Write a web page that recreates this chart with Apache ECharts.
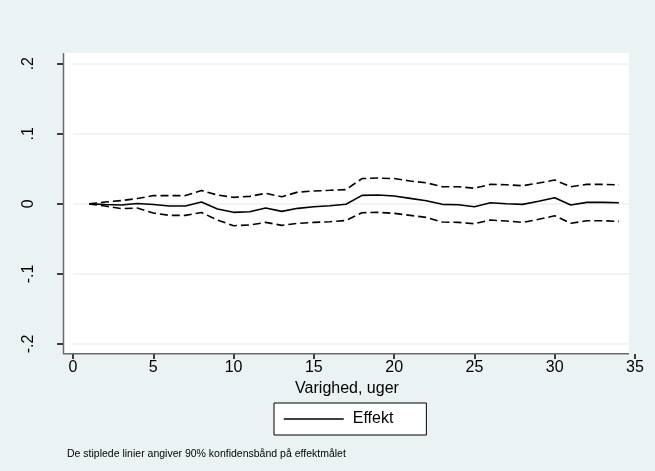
<!DOCTYPE html>
<html>
<head>
<meta charset="utf-8">
<script src="https://cdn.jsdelivr.net/npm/echarts@6/dist/echarts.min.js"></script>
<style>
  html, body { margin: 0; padding: 0; background: #eaf2f3; }
  #demo { width: 655px; height: 471px; }
</style>
</head>
<body>
<div id="demo"></div>
<script>
// uger 1..34
var uger = [1,2,3,4,5,6,7,8,9,10,11,12,13,14,15,16,17,18,19,20,21,22,23,24,25,26,27,28,29,30,31,32,33,34];
var effekt = [0,-0.001,-0.0017,0.0004,-0.001,-0.0031,-0.0031,0.0026,-0.0074,-0.0121,-0.0113,-0.006,-0.0107,-0.0064,-0.0041,-0.0027,-0.0006,
    0.0121,0.0126,0.0111,0.0078,0.0044,-0.0007,-0.0013,-0.0041,0.0016,0.0001,-0.0007,0.0036,0.0087,-0.0017,0.0021,0.0021,0.0016];
var oevre = [0,0.0026,0.0047,0.0076,0.0118,0.0118,0.0118,0.019,0.0126,0.0093,0.0107,0.015,0.0101,0.0168,0.0183,0.0193,0.0204,
    0.0361,0.0368,0.0361,0.0325,0.0301,0.0244,0.0244,0.0223,0.0278,0.0272,0.0258,0.0297,0.034,0.0244,0.0278,0.0278,0.0272];
var nedre = [0,-0.0031,-0.0067,-0.006,-0.0131,-0.0164,-0.0164,-0.0124,-0.0231,-0.0312,-0.0302,-0.0264,-0.0307,-0.0278,-0.0264,-0.0255,-0.0238,
    -0.0127,-0.0121,-0.0136,-0.0164,-0.0193,-0.026,-0.0264,-0.0284,-0.0231,-0.0245,-0.0264,-0.0221,-0.017,-0.0278,-0.0241,-0.0241,-0.025];

function par(y) {
    return uger.map(function (u, i) { return [u, y[i]]; });
}

var font = 'Liberation Sans, Arial, sans-serif';

var option = {
    backgroundColor: '#eaf2f3',
    animation: false,
    grid: { left: 73, right: 20, top: 63.7, bottom: 127 },
    graphic: [
        // plot region
        { type: 'rect', z: -10, shape: { x: 63, y: 53, width: 566, height: 301 }, style: { fill: '#ffffff' } },
        { type: 'line', z: 10, shape: { x1: 63.5, y1: 53, x2: 63.5, y2: 354 }, style: { stroke: '#6a6a6a', lineWidth: 1.5 } },
        { type: 'line', z: 10, shape: { x1: 63, y1: 353.7, x2: 629, y2: 353.7 }, style: { stroke: '#6a6a6a', lineWidth: 1.5 } },
        { type: 'text', left: 67, top: 449, style: { text: 'De stiplede linier angiver 90% konfidensbånd på effektmålet', fill: '#000', font: '10.5px ' + font } }
    ],
    legend: {
        data: ['Effekt'],
        left: 274, top: 403,
        padding: [8, 33, 8, 9],
        itemWidth: 60, itemHeight: 14,
        backgroundColor: '#fff', borderColor: '#000', borderWidth: 1, borderRadius: 0,
        itemStyle: { color: 'transparent', borderColor: 'transparent', borderWidth: 0 },
        lineStyle: { color: '#000', width: 1.5 },
        textStyle: { fontFamily: font, fontSize: 16, color: '#000', padding: [0, 0, 0, 4] }
    },
    xAxis: {
        type: 'value', min: 0, max: 35, interval: 5, offset: 10,
        name: 'Varighed, uger', nameLocation: 'middle', nameGap: 22,
        nameTextStyle: { fontFamily: font, fontSize: 16, color: '#000', padding: [0, 14, 0, 0] },
        axisLine: { show: false, onZero: false },
        axisTick: { show: true, length: 5, lineStyle: { color: '#000', width: 1.5 } },
        axisLabel: { fontFamily: font, fontSize: 16, color: '#000', margin: 6 },
        splitLine: { show: false }
    },
    yAxis: {
        type: 'value', min: -0.2, max: 0.2, interval: 0.1, offset: 10,
        axisLine: { show: false, onZero: false },
        axisTick: { show: true, length: 6, lineStyle: { color: '#000', width: 1.5 } },
        axisLabel: {
            fontFamily: font, fontSize: 16, color: '#000', rotate: 90, margin: 26,
            formatter: function (v) {
                var r = Math.round(v * 10) / 10;
                if (r === 0) return '0';
                return String(r).replace('0.', '.');
            }
        },
        splitLine: { show: true, lineStyle: { color: '#eaf2f3', width: 1.5 } }
    },
    series: [
        { name: 'Effekt', type: 'line', data: par(effekt), symbol: 'none', lineStyle: { color: '#000', width: 1.6 }, itemStyle: { color: '#000' } },
        { name: 'oevre', type: 'line', data: par(oevre), symbol: 'none', lineStyle: { color: '#000', width: 1.6, type: [8, 4] } },
        { name: 'nedre', type: 'line', data: par(nedre), symbol: 'none', lineStyle: { color: '#000', width: 1.6, type: [8, 4] } }
    ]
};

var myChart = echarts.init(document.getElementById('demo'));
myChart.setOption(option);
</script>
</body>
</html>
